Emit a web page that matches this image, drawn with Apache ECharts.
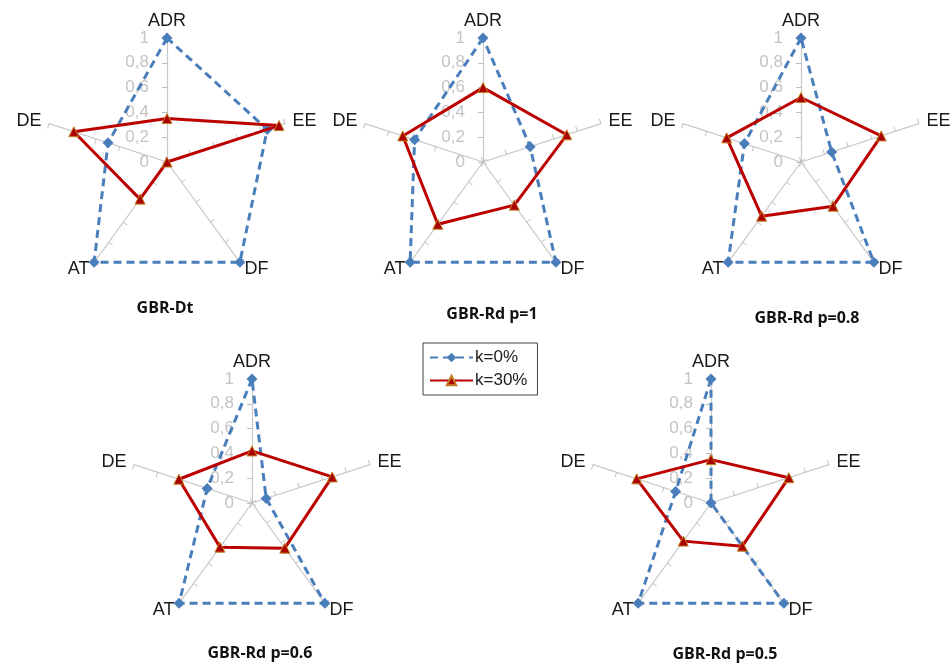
<!DOCTYPE html>
<html>
<head>
<meta charset="utf-8">
<script src="https://cdn.jsdelivr.net/npm/echarts@6/dist/echarts.min.js"></script>
<style>
  html, body { margin: 0; padding: 0; background: #fff; }
  #main { width: 952px; height: 664px; }
</style>
</head>
<body>
<div id="main"></div>
<script>
// indicator order is counter-clockwise in echarts: ADR, DE, AT, DF, EE
const indicators = ['ADR', 'DE', 'AT', 'DF', 'EE'];
const titles = ['GBR-Dt', 'GBR-Rd p=1', 'GBR-Rd p=0.8', 'GBR-Rd p=0.6', 'GBR-Rd p=0.5'];
const seriesNames = ['k=0%', 'k=30%'];

// values per panel, in indicator order
const k0 = [
  [1, 0.50, 1, 1, 0.85],
  [1, 0.58, 1, 1, 0.40],
  [1, 0.48, 1, 1, 0.26],
  [1, 0.38, 1, 1, 0.12],
  [1, 0.30, 1, 1, 0]
];
const k30 = [
  [0.35, 0.79, 0.37, 0, 0.95],
  [0.60, 0.68, 0.62, 0.43, 0.71],
  [0.52, 0.63, 0.54, 0.44, 0.68],
  [0.42, 0.62, 0.44, 0.45, 0.68],
  [0.35, 0.63, 0.38, 0.43, 0.66]
];

const centers = [[167, 162], [483, 162], [801, 162], [252, 503], [711, 503]];
const titlePos = [[160, 295], [487, 301], [802, 305], [255, 640], [720, 641]];

const blue = '#4A7EBB';
const red = '#BC0000';

const myChart = echarts.init(document.getElementById('main'));

const radars = centers.map(function (c) {
  return {
    center: c,
    radius: 124,
    startAngle: 90,
    splitNumber: 5,
    axisNameGap: 8,
    indicator: indicators.map(function (name, i) {
      const ind = { name: name, min: 0, max: 1 };
      if (i === 0) {
        ind.axisLabel = { show: true };
        ind.nameGap = 6;
      }
      return ind;
    }),
    axisName: { color: '#1a1a1a', fontSize: 18, fontFamily: 'Liberation Sans' },
    axisLine: { show: true, lineStyle: { color: '#C8C8C8', width: 1.2 } },
    axisTick: { show: true, length: 5, lineStyle: { color: '#C0C0C0' } },
    axisLabel: {
      show: false,
      color: '#C4C4C4',
      fontSize: 17,
      fontFamily: 'Liberation Sans',
      margin: 18,
      formatter: function (v) { return String(v).replace('.', ','); }
    },
    splitLine: { show: false },
    splitArea: { show: false }
  };
});

const series = [];
radars.forEach(function (r, i) {
  series.push({
    name: titles[i] + ' ' + seriesNames[0],
    type: 'radar',
    radarIndex: i,
    symbol: 'diamond',
    symbolSize: 11,
    z: 2,
    lineStyle: { color: blue, width: 3, type: [8, 5] },
    itemStyle: { color: blue },
    data: [{ name: seriesNames[0], value: k0[i] }]
  });
  series.push({
    name: titles[i] + ' ' + seriesNames[1],
    type: 'radar',
    radarIndex: i,
    symbol: 'triangle',
    symbolSize: 10,
    z: 3,
    lineStyle: { color: red, width: 3, type: 'solid' },
    itemStyle: { color: '#AA0000', borderColor: '#C08020', borderWidth: 1 },
    data: [{ name: seriesNames[1], value: k30[i] }]
  });
});

// empty line series only to give the legend its line+marker icons
series.push({
  name: seriesNames[0], type: 'line', data: [], symbol: 'diamond', symbolSize: 11,
  lineStyle: { color: blue, width: 3, type: [8, 5] }, itemStyle: { color: blue }
});
series.push({
  name: seriesNames[1], type: 'line', data: [], symbol: 'triangle', symbolSize: 10,
  lineStyle: { color: red, width: 3 }, itemStyle: { color: '#AA0000', borderColor: '#C08020', borderWidth: 1 }
});

const option = {
  animation: false,
  title: titles.map(function (t, i) {
    return {
      text: t,
      left: titlePos[i][0],
      top: titlePos[i][1],
      textAlign: 'center',
      textStyle: { fontSize: 16, fontWeight: 'bold', color: '#111', fontFamily: 'Open Sans' }
    };
  }),
  grid: { show: false, left: -100, top: -100, width: 10, height: 10 },
  xAxis: { show: false, type: 'value' },
  yAxis: { show: false, type: 'value' },
  legend: {
    data: seriesNames,
    orient: 'vertical',
    left: 423,
    top: 343,
    width: 114,
    padding: [6, 10, 6, 6],
    itemWidth: 43,
    itemHeight: 12,
    itemGap: 6,
    borderColor: '#404040',
    borderWidth: 1,
    selectedMode: false,
    textStyle: { fontSize: 17, color: '#1a1a1a', fontFamily: 'Liberation Sans', padding: [0, 0, 0, -3] }
  },
  radar: radars,
  series: series
};

myChart.setOption(option);
</script>
</body>
</html>
